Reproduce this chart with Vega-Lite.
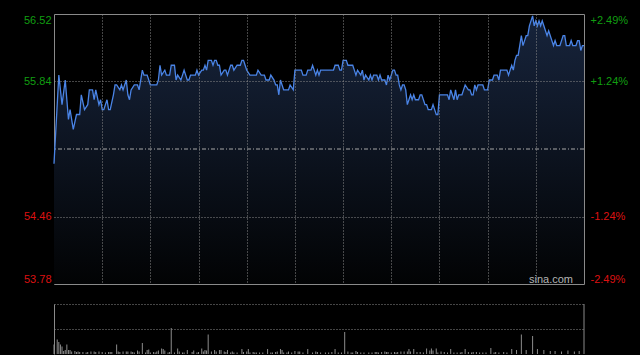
{
  "$schema": "https://vega.github.io/schema/vega-lite/v6.json",
  "background": "#000000",
  "padding": {"left": 0, "top": 12, "right": 0, "bottom": 0},
  "spacing": 17,
  "config": {
    "view": {"stroke": "#8a8a8a", "strokeWidth": 1},
    "font": "Liberation Sans",
    "axis": {"labelFont": "Liberation Sans", "titleFont": "Liberation Sans"}
  },
  "datasets": {
    "price": [
      {"t":0,"p":55.00},{"t":3,"p":55.90},{"t":5,"p":55.60},{"t":7,"p":55.85},{"t":9,"p":55.45},{"t":10,"p":55.55},{"t":12,"p":55.35},{"t":14,"p":55.50},{"t":16,"p":55.50},{"t":17,"p":55.70},{"t":19,"p":55.55},{"t":21,"p":55.60},{"t":22,"p":55.75},{"t":24,"p":55.75},{"t":25,"p":55.65},{"t":26,"p":55.75},{"t":28,"p":55.60},{"t":29,"p":55.65},{"t":30,"p":55.55},{"t":31,"p":55.55},{"t":33,"p":55.65},{"t":34,"p":55.55},{"t":35,"p":55.55},{"t":37,"p":55.70},{"t":38,"p":55.80},{"t":39,"p":55.80},{"t":41,"p":55.75},{"t":42,"p":55.80},{"t":43,"p":55.75},{"t":45,"p":55.85},{"t":46,"p":55.70},{"t":47,"p":55.65},{"t":48,"p":55.75},{"t":50,"p":55.80},{"t":52,"p":55.80},{"t":53,"p":55.75},{"t":55,"p":55.95},{"t":56,"p":55.90},{"t":58,"p":55.90},{"t":60,"p":55.80},{"t":64,"p":55.80},{"t":65,"p":55.85},{"t":66,"p":56.00},{"t":67,"p":55.90},{"t":69,"p":55.95},{"t":70,"p":55.90},{"t":72,"p":55.90},{"t":73,"p":56.00},{"t":75,"p":56.00},{"t":76,"p":55.85},{"t":77,"p":55.90},{"t":79,"p":55.85},{"t":80,"p":55.90},{"t":81,"p":55.95},{"t":82,"p":55.90},{"t":83,"p":55.85},{"t":84,"p":55.85},{"t":85,"p":55.90},{"t":88,"p":55.90},{"t":89,"p":55.95},{"t":90,"p":55.90},{"t":92,"p":55.95},{"t":93,"p":55.95},{"t":94,"p":56.00},{"t":95,"p":55.95},{"t":96,"p":56.05},{"t":98,"p":56.05},{"t":99,"p":56.00},{"t":100,"p":56.05},{"t":101,"p":56.05},{"t":102,"p":56.00},{"t":103,"p":56.00},{"t":104,"p":55.90},{"t":106,"p":55.95},{"t":107,"p":55.95},{"t":108,"p":55.90},{"t":109,"p":55.95},{"t":110,"p":56.00},{"t":111,"p":56.00},{"t":112,"p":55.95},{"t":114,"p":56.00},{"t":116,"p":56.00},{"t":117,"p":56.05},{"t":118,"p":56.05},{"t":119,"p":56.00},{"t":120,"p":55.95},{"t":122,"p":55.90},{"t":126,"p":55.90},{"t":127,"p":55.95},{"t":129,"p":55.90},{"t":131,"p":55.90},{"t":132,"p":55.85},{"t":133,"p":55.85},{"t":134,"p":55.85},{"t":135,"p":55.90},{"t":137,"p":55.85},{"t":138,"p":55.80},{"t":139,"p":55.80},{"t":140,"p":55.70},{"t":141,"p":55.85},{"t":142,"p":55.80},{"t":143,"p":55.75},{"t":144,"p":55.75},{"t":146,"p":55.75},{"t":147,"p":55.80},{"t":149,"p":55.75},{"t":150,"p":55.95},{"t":151,"p":55.95},{"t":152,"p":55.95},{"t":153,"p":55.95},{"t":154,"p":55.95},{"t":155,"p":55.90},{"t":157,"p":55.90},{"t":158,"p":55.95},{"t":160,"p":55.95},{"t":161,"p":56.00},{"t":162,"p":55.95},{"t":163,"p":55.90},{"t":164,"p":55.95},{"t":165,"p":55.90},{"t":166,"p":55.95},{"t":174,"p":55.95},{"t":175,"p":56.00},{"t":177,"p":56.00},{"t":178,"p":55.95},{"t":179,"p":55.95},{"t":180,"p":56.05},{"t":182,"p":56.05},{"t":183,"p":56.00},{"t":186,"p":56.00},{"t":187,"p":55.95},{"t":188,"p":55.90},{"t":189,"p":55.95},{"t":191,"p":55.90},{"t":192,"p":55.95},{"t":193,"p":55.85},{"t":194,"p":55.90},{"t":196,"p":55.85},{"t":197,"p":55.90},{"t":198,"p":55.85},{"t":199,"p":55.90},{"t":201,"p":55.90},{"t":202,"p":55.85},{"t":203,"p":55.90},{"t":204,"p":55.85},{"t":206,"p":55.85},{"t":207,"p":55.80},{"t":208,"p":55.90},{"t":209,"p":55.85},{"t":210,"p":55.90},{"t":211,"p":55.95},{"t":212,"p":55.95},{"t":213,"p":55.90},{"t":214,"p":55.90},{"t":215,"p":55.80},{"t":216,"p":55.75},{"t":217,"p":55.80},{"t":218,"p":55.80},{"t":219,"p":55.75},{"t":220,"p":55.60},{"t":221,"p":55.65},{"t":222,"p":55.70},{"t":223,"p":55.65},{"t":224,"p":55.70},{"t":225,"p":55.65},{"t":227,"p":55.65},{"t":228,"p":55.70},{"t":229,"p":55.70},{"t":230,"p":55.65},{"t":231,"p":55.60},{"t":232,"p":55.60},{"t":233,"p":55.55},{"t":235,"p":55.55},{"t":236,"p":55.60},{"t":237,"p":55.55},{"t":238,"p":55.50},{"t":239,"p":55.50},{"t":240,"p":55.70},{"t":241,"p":55.70},{"t":245,"p":55.70},{"t":246,"p":55.65},{"t":247,"p":55.75},{"t":248,"p":55.70},{"t":249,"p":55.65},{"t":250,"p":55.75},{"t":251,"p":55.65},{"t":252,"p":55.70},{"t":253,"p":55.70},{"t":254,"p":55.70},{"t":255,"p":55.75},{"t":256,"p":55.80},{"t":258,"p":55.75},{"t":259,"p":55.75},{"t":260,"p":55.70},{"t":261,"p":55.70},{"t":262,"p":55.80},{"t":263,"p":55.75},{"t":264,"p":55.80},{"t":267,"p":55.80},{"t":268,"p":55.75},{"t":270,"p":55.75},{"t":271,"p":55.85},{"t":272,"p":55.85},{"t":273,"p":55.85},{"t":274,"p":55.90},{"t":276,"p":55.90},{"t":277,"p":55.85},{"t":278,"p":55.95},{"t":281,"p":55.95},{"t":282,"p":55.95},{"t":283,"p":55.90},{"t":284,"p":55.95},{"t":285,"p":56.00},{"t":286,"p":55.95},{"t":287,"p":56.05},{"t":288,"p":56.10},{"t":289,"p":56.10},{"t":290,"p":56.20},{"t":291,"p":56.30},{"t":292,"p":56.20},{"t":293,"p":56.25},{"t":294,"p":56.30},{"t":295,"p":56.30},{"t":296,"p":56.40},{"t":297,"p":56.45},{"t":298,"p":56.50},{"t":299,"p":56.40},{"t":300,"p":56.45},{"t":301,"p":56.40},{"t":302,"p":56.45},{"t":303,"p":56.40},{"t":304,"p":56.45},{"t":305,"p":56.40},{"t":306,"p":56.35},{"t":307,"p":56.30},{"t":308,"p":56.35},{"t":309,"p":56.30},{"t":310,"p":56.25},{"t":311,"p":56.20},{"t":312,"p":56.25},{"t":313,"p":56.20},{"t":315,"p":56.20},{"t":316,"p":56.25},{"t":317,"p":56.30},{"t":318,"p":56.30},{"t":319,"p":56.20},{"t":321,"p":56.20},{"t":322,"p":56.25},{"t":323,"p":56.20},{"t":325,"p":56.20},{"t":326,"p":56.25},{"t":327,"p":56.25},{"t":328,"p":56.15},{"t":329,"p":56.20},{"t":330,"p":56.20}
    ],
    "volume": [
      {"t":0,"v":19},{"t":2,"v":29},{"t":3,"v":24},{"t":4,"v":19},{"t":5,"v":15},{"t":6,"v":6},{"t":7,"v":8},{"t":8,"v":19},{"t":9,"v":8},{"t":10,"v":8},{"t":11,"v":5},{"t":13,"v":6},{"t":14,"v":4},{"t":15,"v":5},{"t":16,"v":4},{"t":18,"v":4},{"t":20,"v":3},{"t":21,"v":4},{"t":23,"v":5},{"t":25,"v":5},{"t":26,"v":4},{"t":28,"v":5},{"t":30,"v":4},{"t":32,"v":3},{"t":34,"v":4},{"t":35,"v":4},{"t":36,"v":4},{"t":39,"v":19},{"t":40,"v":5},{"t":41,"v":4},{"t":43,"v":5},{"t":45,"v":5},{"t":46,"v":5},{"t":48,"v":5},{"t":49,"v":4},{"t":50,"v":3},{"t":52,"v":7},{"t":53,"v":5},{"t":55,"v":22},{"t":57,"v":3},{"t":58,"v":8},{"t":59,"v":9},{"t":60,"v":3},{"t":62,"v":4},{"t":63,"v":3},{"t":64,"v":5},{"t":65,"v":7},{"t":67,"v":11},{"t":68,"v":10},{"t":69,"v":7},{"t":71,"v":3},{"t":72,"v":4},{"t":73,"v":52},{"t":75,"v":3},{"t":77,"v":11},{"t":78,"v":5},{"t":80,"v":3},{"t":81,"v":3},{"t":83,"v":8},{"t":86,"v":4},{"t":87,"v":7},{"t":89,"v":3},{"t":90,"v":4},{"t":92,"v":11},{"t":93,"v":5},{"t":94,"v":8},{"t":95,"v":7},{"t":96,"v":39},{"t":98,"v":5},{"t":100,"v":8},{"t":101,"v":5},{"t":103,"v":8},{"t":104,"v":8},{"t":106,"v":5},{"t":107,"v":4},{"t":108,"v":8},{"t":110,"v":3},{"t":111,"v":5},{"t":112,"v":3},{"t":114,"v":3},{"t":117,"v":10},{"t":118,"v":4},{"t":120,"v":5},{"t":121,"v":10},{"t":122,"v":3},{"t":124,"v":4},{"t":125,"v":3},{"t":126,"v":3},{"t":128,"v":3},{"t":130,"v":3},{"t":133,"v":10},{"t":135,"v":3},{"t":136,"v":3},{"t":138,"v":4},{"t":139,"v":5},{"t":141,"v":10},{"t":142,"v":8},{"t":143,"v":3},{"t":145,"v":3},{"t":146,"v":5},{"t":148,"v":3},{"t":150,"v":6},{"t":152,"v":5},{"t":153,"v":5},{"t":155,"v":3},{"t":158,"v":10},{"t":161,"v":3},{"t":163,"v":5},{"t":164,"v":4},{"t":166,"v":3},{"t":169,"v":3},{"t":171,"v":3},{"t":173,"v":4},{"t":175,"v":10},{"t":177,"v":3},{"t":179,"v":3},{"t":181,"v":44},{"t":183,"v":5},{"t":185,"v":3},{"t":186,"v":3},{"t":188,"v":6},{"t":189,"v":4},{"t":191,"v":3},{"t":193,"v":3},{"t":196,"v":3},{"t":198,"v":3},{"t":200,"v":4},{"t":201,"v":4},{"t":202,"v":3},{"t":204,"v":4},{"t":206,"v":5},{"t":207,"v":4},{"t":208,"v":4},{"t":210,"v":3},{"t":212,"v":4},{"t":213,"v":3},{"t":214,"v":4},{"t":216,"v":5},{"t":218,"v":5},{"t":220,"v":5},{"t":221,"v":10},{"t":222,"v":5},{"t":224,"v":10},{"t":226,"v":4},{"t":228,"v":4},{"t":230,"v":3},{"t":232,"v":11},{"t":234,"v":7},{"t":235,"v":11},{"t":236,"v":7},{"t":238,"v":11},{"t":239,"v":3},{"t":241,"v":5},{"t":243,"v":4},{"t":245,"v":3},{"t":247,"v":10},{"t":249,"v":3},{"t":251,"v":3},{"t":253,"v":3},{"t":254,"v":4},{"t":256,"v":10},{"t":258,"v":4},{"t":260,"v":3},{"t":261,"v":4},{"t":263,"v":4},{"t":265,"v":3},{"t":267,"v":3},{"t":269,"v":3},{"t":272,"v":12},{"t":274,"v":3},{"t":275,"v":4},{"t":277,"v":3},{"t":280,"v":4},{"t":282,"v":3},{"t":285,"v":10},{"t":288,"v":8},{"t":291,"v":39},{"t":294,"v":8},{"t":298,"v":36},{"t":301,"v":10},{"t":305,"v":8},{"t":309,"v":6},{"t":312,"v":6},{"t":316,"v":5},{"t":320,"v":7},{"t":324,"v":5},{"t":327,"v":6}
    ]
  },
  "vconcat": [
    {
      "width": 530,
      "height": 270,
      "resolve": {"scale": {"y": "independent"}},
      "layer": [
        {
          "layer": [
            {
              "data": {"name": "price"},
              "mark": {
                "type": "area",
                "color": {"x1": 0, "y1": 0, "x2": 0, "y2": 1, "gradient": "linear",
                  "stops": [{"offset": 0, "color": "#17243c"}, {"offset": 1, "color": "#020304"}]}
              },
              "encoding": {
                "x": {"field": "t", "type": "quantitative",
                  "scale": {"domain": [0, 330], "nice": false, "zero": false},
                  "axis": {"values": [30, 60, 90, 120, 150, 180, 210, 240, 270, 300], "grid": true, "gridDash": [1, 2], "gridColor": "#8a8a8a", "labels": false, "ticks": false, "domain": false, "title": null, "minExtent": 0, "maxExtent": 0, "zindex": 1}},
                "y": {"field": "p", "type": "quantitative",
                  "scale": {"domain": [53.78, 56.52], "nice": false, "zero": false},
                  "axis": {"values": [53.78, 54.46, 55.84, 56.52], "grid": true, "gridDash": [1, 2], "gridColor": "#8a8a8a",
                    "gridOpacity": {"condition": {"test": "datum.value > 54 && datum.value < 56", "value": 1}, "value": 0},
                    "ticks": false, "domain": false, "labelFlush": true, "labelPadding": 3, "labelFontSize": 11,
                    "labelColor": {"condition": {"test": "datum.value > 55.15", "value": "#119e11"}, "value": "#dd1111"},
                    "format": ".2f", "title": null, "minExtent": 53, "maxExtent": 53, "zindex": 1}},
                "y2": {"datum": 53.78}
              }
            },
            {
              "data": {"values": [{}]},
              "mark": {"type": "rule", "color": "#a8a8a8", "strokeDash": [4, 2, 1, 2], "strokeWidth": 1},
              "encoding": {"y": {"datum": 55.15, "type": "quantitative"}}
            },
            {
              "data": {"values": [{"s": "sina.com"}]},
              "mark": {"type": "text", "align": "right", "baseline": "alphabetic", "dx": -11, "dy": -1, "fontSize": 11, "color": "#b4b4b4", "font": "Liberation Sans"},
              "encoding": {"x": {"datum": 330, "type": "quantitative"}, "y": {"datum": 53.78, "type": "quantitative"}, "text": {"field": "s"}}
            }
          ]
        },
        {
          "data": {"name": "price"},
          "mark": {"type": "line", "color": "#4a84e6", "strokeWidth": 1.3},
          "encoding": {
            "x": {"field": "t", "type": "quantitative"},
            "y": {"field": "p", "type": "quantitative",
              "scale": {"domain": [53.78, 56.52], "nice": false, "zero": false},
              "axis": {"orient": "right", "values": [53.78, 54.46, 55.84, 56.52],
                "labelExpr": "datum.value > 56 ? '+2.49%' : datum.value > 55.5 ? '+1.24%' : datum.value > 54 ? '-1.24%' : '-2.49%'",
                "labelColor": {"condition": {"test": "datum.value > 55.15", "value": "#119e11"}, "value": "#dd1111"},
                "grid": false, "ticks": false, "domain": false, "labelFlush": true, "labelPadding": 6, "labelFontSize": 11,
                "title": null, "minExtent": 56, "maxExtent": 56}}
          }
        }
      ]
    },
    {
      "width": 530,
      "height": 50,
      "view": {"stroke": null},
      "layer": [
        {
          "data": {"name": "volume"},
          "mark": {"type": "rule", "color": "#8c8c8c", "strokeWidth": 1},
          "encoding": {
            "x": {"field": "t", "type": "quantitative", "scale": {"domain": [0, 330], "nice": false, "zero": false}, "axis": null},
            "y": {"field": "v", "type": "quantitative", "scale": {"domain": [0, 100], "nice": false},
              "axis": {"values": [50, 100], "grid": true, "gridDash": [1, 2], "gridColor": "#8a8a8a", "labels": false, "ticks": false, "domain": true, "domainColor": "#8a8a8a", "title": null, "minExtent": 53, "maxExtent": 53}},
            "y2": {"datum": 0}
          }
        },
        {
          "data": {"values": [{}]},
          "mark": {"type": "rule", "color": "#8a8a8a", "strokeWidth": 1},
          "encoding": {"x": {"datum": 330, "type": "quantitative"}}
        }
      ]
    }
  ]
}
